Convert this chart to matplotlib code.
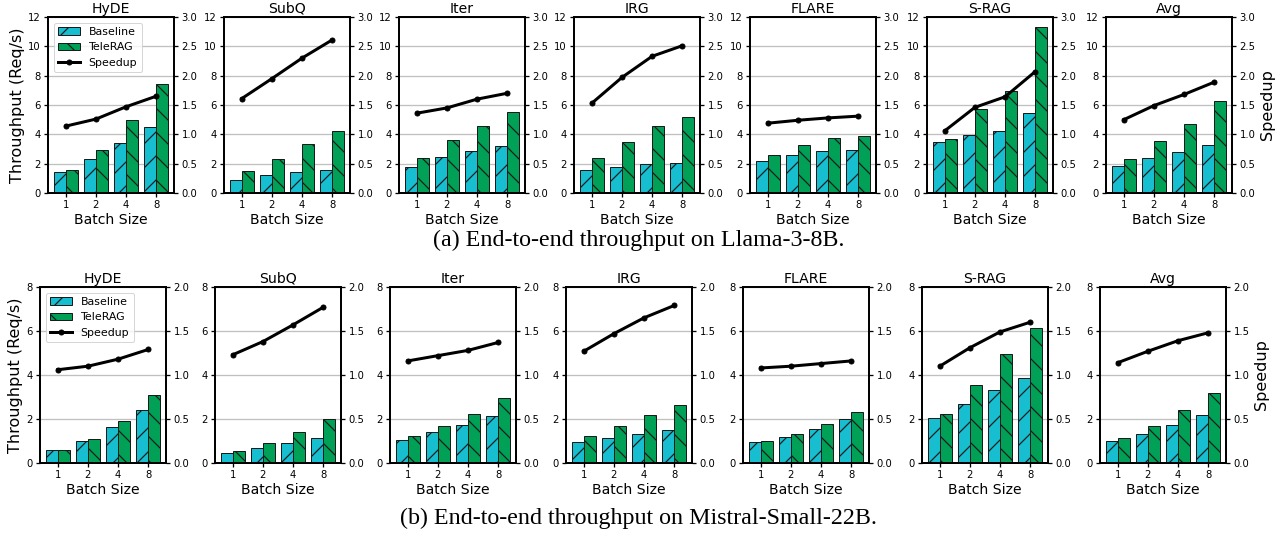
# Throughput de extremo a extremo: Baseline vs TeleRAG, dos modelos
import numpy as np
import matplotlib.pyplot as plt
from matplotlib.ticker import FormatStrFormatter

plt.rcParams['font.family'] = 'DejaVu Sans'
plt.rcParams['hatch.linewidth'] = 1.2

# Datos
methods = ['HyDE', 'SubQ', 'Iter', 'IRG', 'FLARE', 'S-RAG', 'Avg']
batch_sizes = ['1', '2', '4', '8']

# (a) Llama-3-8B
llama_baseline = [
    [1.40, 2.30, 3.40, 4.50],
    [0.92, 1.20, 1.45, 1.60],
    [1.75, 2.45, 2.86, 3.20],
    [1.57, 1.75, 1.95, 2.05],
    [2.16, 2.61, 2.89, 2.95],
    [3.48, 3.95, 4.20, 5.45],
    [1.86, 2.39, 2.80, 3.30],
]
llama_telerag = [
    [1.60, 2.90, 5.00, 7.45],
    [1.50, 2.35, 3.35, 4.25],
    [2.39, 3.59, 4.57, 5.52],
    [2.39, 3.48, 4.57, 5.18],
    [2.59, 3.25, 3.75, 3.89],
    [3.68, 5.75, 6.93, 11.30],
    [2.32, 3.55, 4.70, 6.27],
]
llama_speedup = [
    [1.14, 1.26, 1.47, 1.65],
    [1.61, 1.95, 2.30, 2.61],
    [1.36, 1.45, 1.60, 1.70],
    [1.53, 1.97, 2.33, 2.51],
    [1.19, 1.24, 1.28, 1.31],
    [1.06, 1.46, 1.64, 2.07],
    [1.25, 1.49, 1.68, 1.89],
]

# (b) Mistral-Small-22B
mistral_baseline = [
    [0.57, 0.98, 1.63, 2.41],
    [0.47, 0.66, 0.90, 1.14],
    [1.05, 1.39, 1.75, 2.14],
    [0.96, 1.14, 1.33, 1.49],
    [0.95, 1.17, 1.55, 2.00],
    [2.03, 2.68, 3.33, 3.86],
    [0.99, 1.34, 1.73, 2.17],
]
mistral_telerag = [
    [0.60, 1.08, 1.91, 3.10],
    [0.56, 0.90, 1.40, 2.00],
    [1.23, 1.69, 2.23, 2.95],
    [1.23, 1.67, 2.20, 2.64],
    [1.01, 1.33, 1.76, 2.32],
    [2.23, 3.54, 4.94, 6.14],
    [1.13, 1.69, 2.39, 3.16],
]
mistral_speedup = [
    [1.06, 1.10, 1.18, 1.29],
    [1.23, 1.38, 1.57, 1.77],
    [1.16, 1.22, 1.28, 1.37],
    [1.27, 1.47, 1.65, 1.79],
    [1.08, 1.10, 1.13, 1.16],
    [1.10, 1.31, 1.49, 1.60],
    [1.14, 1.27, 1.39, 1.48],
]

cyan = '#17becf'
green = '#00a057'
W, H = 1278, 533

fig = plt.figure(figsize=(W / 72, H / 72), dpi=72)


def draw_row(bottom_px, lefts_px, baseline, telerag, speedup, ymax, smax, caption, cap_y):
    x = np.arange(len(batch_sizes))
    for i, name in enumerate(methods):
        ax = fig.add_axes([lefts_px[i] / W, 1 - bottom_px / H, 126 / W, 176 / H])
        ax.bar(x - 0.2, baseline[i], 0.4, color=cyan, edgecolor='#1a1a1a',
               linewidth=1, hatch='/', label='Baseline')
        ax.bar(x + 0.2, telerag[i], 0.4, color=green, edgecolor='#1a1a1a',
               linewidth=1, hatch='\\', label='TeleRAG')
        ax.set_ylim(0, ymax)
        ax.set_yticks(np.arange(0, ymax + 0.1, 2))
        ax.set_xticks(x)
        ax.set_xticklabels(batch_sizes)
        ax.yaxis.grid(True, color='#c0c0c0', linewidth=1.3)
        ax.set_axisbelow(True)
        ax.set_title(name, fontsize=14, pad=4)
        ax.set_xlabel('Batch Size', fontsize=14, labelpad=2)
        ax.tick_params(labelsize=10, length=4, width=1.3)

        ax2 = ax.twinx()
        ax2.plot(x, speedup[i], '-o', color='black', linewidth=3, markersize=5,
                 label='Speedup')
        ax2.set_ylim(0, smax)
        ax2.set_yticks(np.arange(0, smax + 0.01, 0.5))
        ax2.yaxis.set_major_formatter(FormatStrFormatter('%.1f'))
        ax2.tick_params(labelsize=10, length=4, width=1.3)

        for a in (ax, ax2):
            for s in a.spines.values():
                s.set_linewidth(1.8)

        if i == 0:
            ax.set_ylabel('Throughput (Req/s)', fontsize=16, labelpad=3)
            h1, l1 = ax.get_legend_handles_labels()
            h2, l2 = ax2.get_legend_handles_labels()
            ax2.legend(h1 + h2, l1 + l2, loc='upper left', fontsize=11)
        if i == len(methods) - 1:
            ax2.set_ylabel('Speedup', fontsize=16, labelpad=4)

    fig.text(0.5, 1 - cap_y / H, caption, ha='center', va='center',
             family='Liberation Serif', fontsize=24)


draw_row(193, [48, 224, 399, 574, 750, 927, 1106],
         llama_baseline, llama_telerag, llama_speedup, 12, 3.0,
         '(a) End-to-end throughput on Llama-3-8B.', 240)
draw_row(463, [40, 215, 390, 566, 743, 922, 1100],
         mistral_baseline, mistral_telerag, mistral_speedup, 8, 2.0,
         '(b) End-to-end throughput on Mistral-Small-22B.', 518)

fig.savefig('out.png', dpi=72)
